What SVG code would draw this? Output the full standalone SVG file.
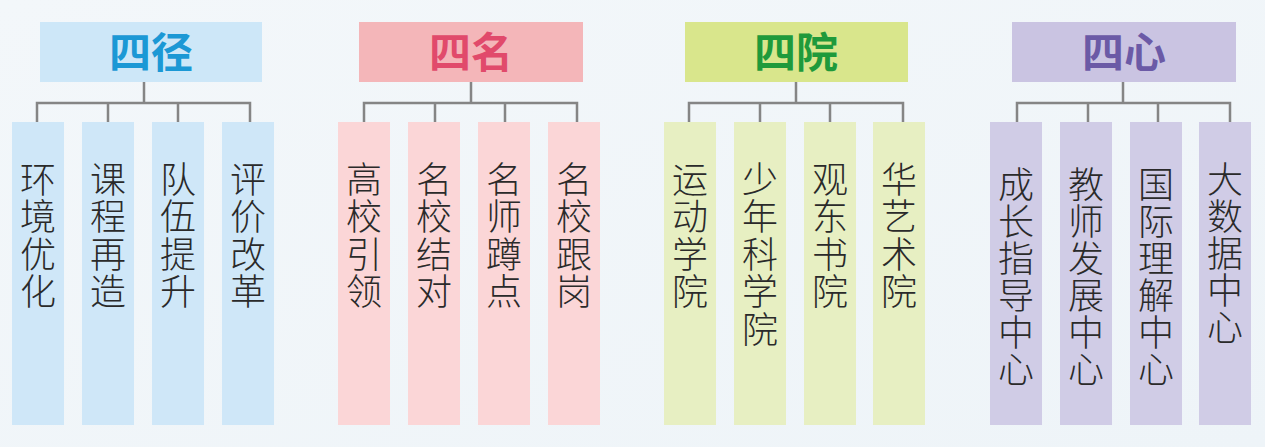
<svg xmlns="http://www.w3.org/2000/svg" width="1265" height="447" viewBox="0 0 1265 447">
<defs>
<linearGradient id="bg" x1="0" y1="0" x2="1" y2="1">
<stop offset="0" stop-color="#f3f7fa"/>
<stop offset="1" stop-color="#eef4f8"/>
</linearGradient>
</defs>
<style>
.h{font-family:"Noto Sans CJK SC",sans-serif;font-size:42px;font-weight:700;text-anchor:middle}
.c{font-family:"Noto Sans CJK SC",sans-serif;font-size:36px;font-weight:300;fill:#2a2a2a;writing-mode:vertical-rl;text-anchor:start;letter-spacing:1.5px}
.c6{letter-spacing:1px}
.ln{fill:none;stroke:#858585;stroke-width:2.5}
.b1{fill:#cfe7f8}.b2{fill:#fbd6d7}.b3{fill:#e7efc2}.b4{fill:#d0cce6}
</style>
<rect width="1265" height="447" fill="url(#bg)"/>
<g id="connectors">
<path class="ln" d="M144 82V103M37 122V103H250V122M108 103V122M178 103V122"/>
<path class="ln" d="M471 82V103M364 122V103H577V122M435 103V122M505 103V122"/>
<path class="ln" d="M796 82V103M689 122V103H903V122M760 103V122M830 103V122"/>
<path class="ln" d="M1123 82V103M1017 122V103H1230V122M1088 103V122M1158 103V122"/>
</g>
<g id="h1"><rect x="40" y="22" width="222" height="60" fill="#cde7f8"/><text class="h" x="151" y="68" fill="#1b98d5">四径</text></g>
<g id="h2"><rect x="359" y="22" width="224" height="60" fill="#f4b6b9"/><text class="h" x="471" y="68" fill="#e14a6b">四名</text></g>
<g id="h3"><rect x="685" y="22" width="223" height="60" fill="#d9e68c"/><text class="h" x="796" y="68" fill="#1f9a3b">四院</text></g>
<g id="h4"><rect x="1012" y="22" width="224" height="60" fill="#cac4e2"/><text class="h" x="1124" y="68" fill="#6b5aa6">四心</text></g>

<g id="c1a"><rect class="b1" x="12" y="122" width="52" height="303"/><text class="c" x="38" y="161">环境优化</text></g>
<g id="c1b"><rect class="b1" x="82" y="122" width="52" height="303"/><text class="c" x="108" y="161">课程再造</text></g>
<g id="c1c"><rect class="b1" x="152" y="122" width="52" height="303"/><text class="c" x="178" y="161">队伍提升</text></g>
<g id="c1d"><rect class="b1" x="222" y="122" width="52" height="303"/><text class="c" x="248" y="161">评价改革</text></g>

<g id="c2a"><rect class="b2" x="338" y="122" width="52" height="303"/><text class="c" x="364" y="161">高校引领</text></g>
<g id="c2b"><rect class="b2" x="408" y="122" width="52" height="303"/><text class="c" x="434" y="161">名校结对</text></g>
<g id="c2c"><rect class="b2" x="478" y="122" width="52" height="303"/><text class="c" x="504" y="161">名师蹲点</text></g>
<g id="c2d"><rect class="b2" x="548" y="122" width="52" height="303"/><text class="c" x="574" y="161">名校跟岗</text></g>

<g id="c3a"><rect class="b3" x="664" y="122" width="52" height="303"/><text class="c" x="690" y="161">运动学院</text></g>
<g id="c3b"><rect class="b3" x="734" y="122" width="52" height="303"/><text class="c" x="760" y="161">少年科学院</text></g>
<g id="c3c"><rect class="b3" x="804" y="122" width="52" height="303"/><text class="c" x="830" y="161">观东书院</text></g>
<g id="c3d"><rect class="b3" x="873" y="122" width="52" height="303"/><text class="c" x="899" y="161">华艺术院</text></g>

<g id="c4a"><rect class="b4" x="990" y="122" width="52" height="303"/><text class="c c6" x="1016" y="166">成长指导中心</text></g>
<g id="c4b"><rect class="b4" x="1060" y="122" width="52" height="303"/><text class="c c6" x="1086" y="166">教师发展中心</text></g>
<g id="c4c"><rect class="b4" x="1130" y="122" width="52" height="303"/><text class="c c6" x="1156" y="166">国际理解中心</text></g>
<g id="c4d"><rect class="b4" x="1199" y="122" width="52" height="303"/><text class="c c6" x="1225" y="161">大数据中心</text></g>
</svg>
